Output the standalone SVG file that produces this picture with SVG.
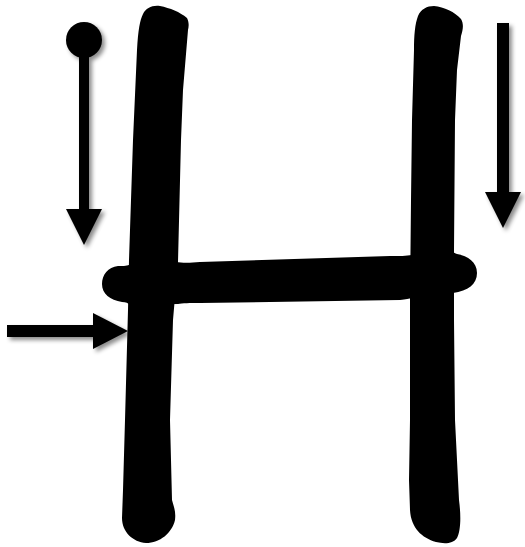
<svg xmlns="http://www.w3.org/2000/svg" width="525" height="547" viewBox="0 0 525 547">
  <defs>
    <filter id="shadow" x="-30%" y="-30%" width="160%" height="160%">
      <feDropShadow dx="3" dy="3" stdDeviation="2.2" flood-color="#000" flood-opacity="0.45"/>
    </filter>
    <style>
      .ink { fill: #000; stroke: none; }
    </style>
  </defs>
  <rect width="525" height="547" fill="#fff"/>
  <g id="letter-H" class="ink">
    <path id="left-stem" d="M 143,14 C 146,8 152,5 160,6 C 170,8 180,12 187,18 C 189,22 189,26 188,30 L 183,90 L 181,140 L 178,262 L 173,320 L 170,420 L 172,500 C 174,507 176,512 175,520 C 172,533 160,543 146,543 C 133,542 122,532 122,518 L 123,490 L 125,420 L 128,310 L 129,260 L 133,140 L 137,50 C 138,30 140,20 143,14 Z"/>
    <path id="right-stem" d="M 418,16 C 421,9 427,6 434,6 C 444,7 455,12 461,19 C 464,24 463,30 461,36 L 457,70 L 455,120 L 454,250 L 454,320 L 455,420 L 459,500 C 461,515 461,530 457,538 C 453,544 444,544 436,542 C 422,538 411,528 410,510 L 409,480 L 410,420 L 410,300 L 411,200 L 412,120 L 414,50 C 414,35 415,24 418,16 Z"/>
    <path id="crossbar" d="M 130,264 C 128,266 124,266 118,266 C 108,267 102,275 102,284 C 102,294 110,300 122,302 C 126,302 128,303 130,305 L 178,304 C 182,303 190,303 200,303 L 400,300 C 406,299 409,299 412,298 L 453,293 C 468,291 477,284 477,273 C 477,262 468,256 457,254 C 455,253 454,253 453,252 L 412,255 C 406,256 400,256 390,256 L 200,262 C 190,263 182,263 176,262 Z"/>
  </g>
  <g id="connectors" class="ink" filter="url(#shadow)">
    <g id="arrow-start-dot">
      <circle cx="84" cy="40" r="18"/>
      <rect x="79" y="40" width="10" height="172"/>
      <polygon points="66,209 102,209 84,245"/>
    </g>
    <g id="arrow-right-down">
      <rect x="497" y="23" width="12" height="172"/>
      <polygon points="485,192 521,192 503,228"/>
    </g>
    <g id="arrow-horizontal">
      <rect x="7" y="325" width="88" height="12"/>
      <polygon points="93,313 93,349 128,331"/>
    </g>
  </g>
</svg>
